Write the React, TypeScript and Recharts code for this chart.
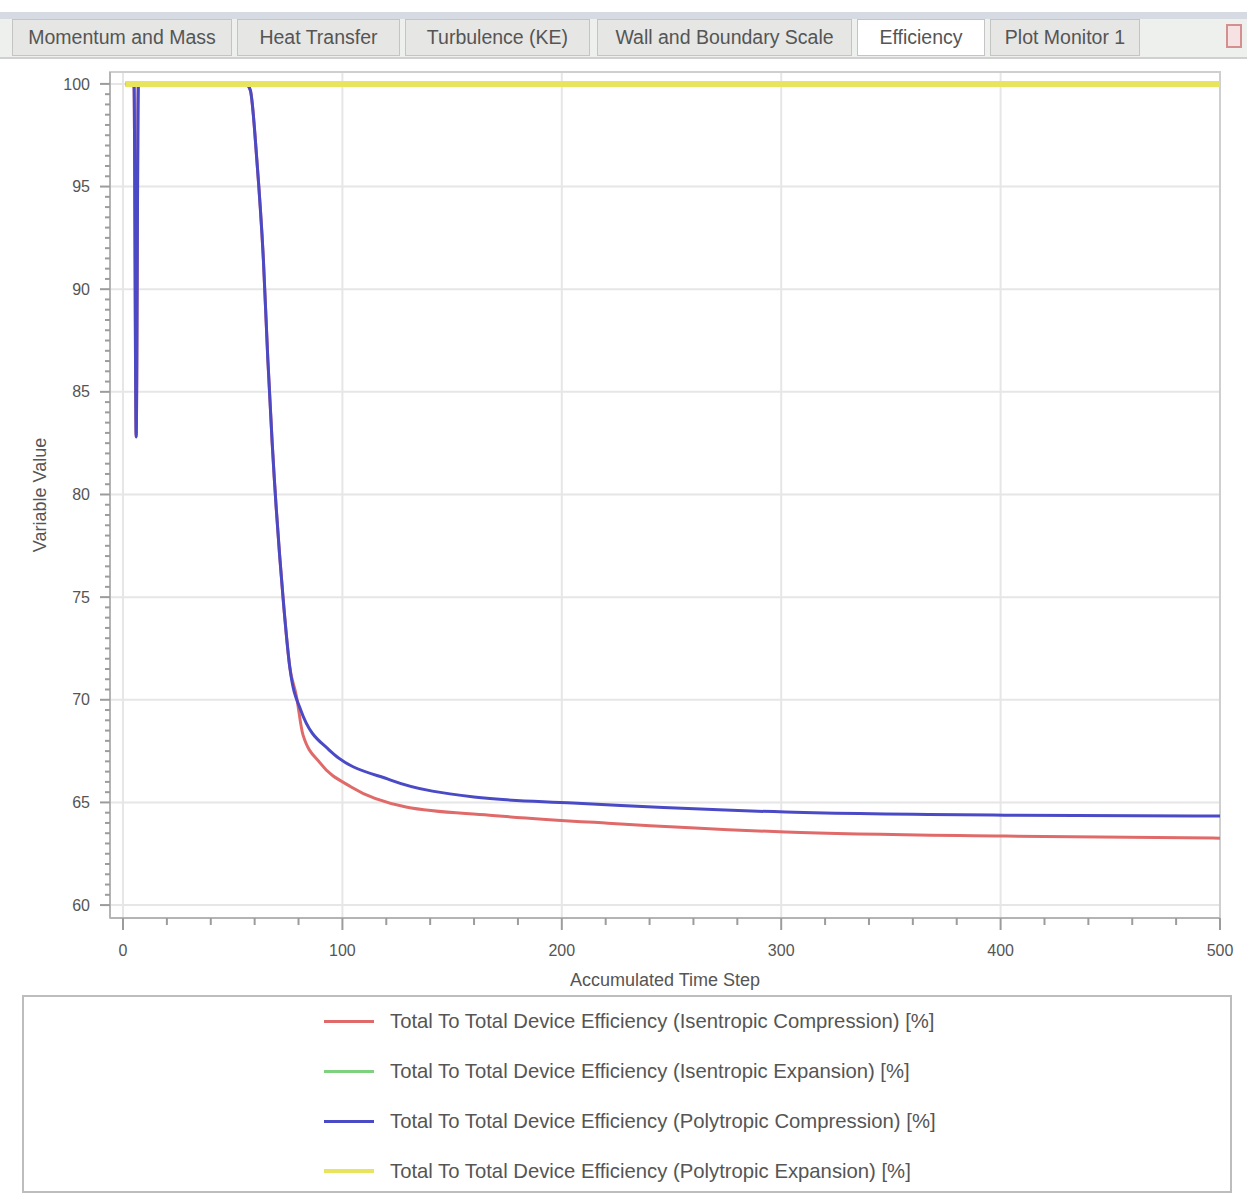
import React from 'react';
import { LineChart, Line, XAxis, YAxis, CartesianGrid, ReferenceArea } from 'recharts';

// ---------- data ----------
const tabLabels = ['Momentum and Mass', 'Heat Transfer', 'Turbulence (KE)', 'Wall and Boundary Scale', 'Efficiency', 'Plot Monitor 1'];
const activeTab = 'Efficiency';

const seriesNames = [
  'Total To Total Device Efficiency (Isentropic Compression) [%]',
  'Total To Total Device Efficiency (Isentropic Expansion) [%]',
  'Total To Total Device Efficiency (Polytropic Compression) [%]',
  'Total To Total Device Efficiency (Polytropic Expansion) [%]',
];
const seriesColors = ['#e06a6a', '#7fd07f', '#4a4ac6', '#e9e45e'];

const isenCompSteps = [1, 5, 6, 7, 56, 58, 61, 64, 66, 68, 73, 76, 79, 82, 90, 104, 129, 167, 221, 302, 402, 500];
const isenCompValues = [100, 100, 82.8, 100, 100, 99.7, 96.3, 91.4, 86.6, 82.5, 74.9, 71.6, 70.2, 68.3, 66.9, 65.75, 64.78, 64.38, 63.99, 63.56, 63.36, 63.26];

const isenExpSteps = [1, 500];
const isenExpValues = [100, 100];

const polyCompSteps = [1, 5, 6, 7, 56, 58, 61, 64, 66, 68, 73, 76, 81, 94, 122, 160, 205, 302, 402, 500];
const polyCompValues = [100, 100, 82.8, 100, 100, 99.7, 96.3, 91.4, 86.6, 82.5, 74.9, 71.6, 69.5, 67.55, 66.09, 65.26, 64.97, 64.53, 64.38, 64.34];

const polyExpSteps = [1, 500];
const polyExpValues = [100, 100];

const xMajorTicks = [0, 100, 200, 300, 400, 500];
const yMajorTicks = [60, 65, 70, 75, 80, 85, 90, 95, 100];
const xDomain = [-5.93, 500];
const yDomain = [59.37, 100.58];
const xTitle = 'Accumulated Time Step';
const yTitle = 'Variable Value';

// ---------- layout (not data) ----------
const tabWidths = [220, 163, 185, 255, 128, 150];
const tabGaps = [5, 5, 7, 5, 5, 0];

// ---------- derived ----------
const toRows = (steps: number[], vals: number[]) => steps.map((s, i) => ({ s, v: vals[i] }));
const seriesData = [
  toRows(isenCompSteps, isenCompValues),
  toRows(isenExpSteps, isenExpValues),
  toRows(polyCompSteps, polyCompValues),
  toRows(polyExpSteps, polyExpValues),
];
const xAllTicks = Array.from({ length: 26 }, (_, i) => i * 20);
const yAllTicks = Array.from({ length: 81 }, (_, i) => 60 + i * 0.5);

const FONT = '"Liberation Sans", Arial, sans-serif';

const XTick = (props: any) => {
  const { x, y, payload } = props;
  const major = xMajorTicks.includes(payload.value);
  return (
    <g>
      <line x1={x} y1={y} x2={x} y2={y + (major ? 12 : 7)} stroke="#9c9c9c" strokeWidth={2} />
      {major && (
        <text x={x} y={y + 38} textAnchor="middle" fontSize={16} fill="#555" fontFamily={FONT}>
          {payload.value}
        </text>
      )}
    </g>
  );
};

const YTick = (props: any) => {
  const { x, y, payload } = props;
  const major = yMajorTicks.includes(payload.value);
  return (
    <g>
      <line x1={x - (major ? 10 : 5)} y1={y} x2={x} y2={y} stroke="#9c9c9c" strokeWidth={2} />
      {major && (
        <text x={x - 20} y={y} dy="0.35em" textAnchor="end" fontSize={16} fill="#555" fontFamily={FONT}>
          {payload.value}
        </text>
      )}
    </g>
  );
};

export default function App() {
  return (
    <div style={{ position: 'relative', width: 1247, height: 1195, background: '#fff', fontFamily: FONT, overflow: 'hidden' }}>
      <style>{'body{margin:0;background:#fff;}'}</style>
      {/* tab strip */}
      <div style={{ position: 'absolute', left: 0, top: 12, width: 1247, height: 7, background: '#d6dbe3' }} />
      <div style={{ position: 'absolute', left: 0, top: 19, width: 1247, height: 38, background: '#eef0ee', borderBottom: '2px solid #d0d0d0' }} />
      <div style={{ position: 'absolute', left: 12, top: 19, display: 'flex' }}>
        {tabLabels.map((t, i) => (
          <div
            key={t}
            style={{
              boxSizing: 'border-box',
              width: tabWidths[i],
              marginRight: tabGaps[i],
              height: 37,
              lineHeight: '35px',
              textAlign: 'center',
              fontSize: 19.5,
              color: '#555',
              background: t === activeTab ? '#ffffff' : '#e6e6e4',
              border: '1px solid #c4c4c4',
              whiteSpace: 'nowrap',
              overflow: 'hidden',
            }}
          >
            {t}
          </div>
        ))}
      </div>
      <div style={{ position: 'absolute', left: 1226, top: 24, width: 12, height: 20, border: '2px solid #d49090', background: '#f6e2e2' }} />

      {/* chart */}
      <div style={{ position: 'absolute', left: 0, top: 60 }}>
        <LineChart width={1247} height={930} margin={{ top: 12, right: 27, bottom: 0, left: 0 }}>
          <CartesianGrid stroke="#e6e6e6" strokeWidth={2} horizontalValues={yMajorTicks} verticalValues={xMajorTicks} />
          <ReferenceArea x1={xDomain[0]} x2={xDomain[1]} y1={yDomain[0]} y2={yDomain[1]} fill="none" stroke="#cfcfcf" strokeWidth={2} ifOverflow="visible" />
          <XAxis
            type="number"
            dataKey="s"
            domain={xDomain}
            ticks={xAllTicks}
            interval={0}
            allowDataOverflow
            tickSize={0}
            tickMargin={0}
            tickLine={false}
            axisLine={{ stroke: '#b4b4b4', strokeWidth: 2 }}
            tick={<XTick />}
            height={72}
            label={{ value: xTitle, position: 'insideBottom', offset: 4, fontSize: 18, fill: '#555', fontFamily: FONT }}
          />
          <YAxis
            type="number"
            domain={yDomain}
            ticks={yAllTicks}
            interval={0}
            allowDataOverflow
            tickSize={0}
            tickMargin={0}
            tickLine={false}
            axisLine={{ stroke: '#b4b4b4', strokeWidth: 2 }}
            tick={<YTick />}
            width={110}
            label={{ value: yTitle, angle: -90, position: 'insideLeft', offset: 40, fontSize: 18, fill: '#555', fontFamily: FONT, style: { textAnchor: 'middle' } }}
          />
          {seriesData.map((d, i) => (
            <Line
              key={seriesNames[i]}
              data={d}
              dataKey="v"
              name={seriesNames[i]}
              type="monotone"
              stroke={seriesColors[i]}
              strokeWidth={i === 3 ? 6 : 3}
              dot={false}
              activeDot={false}
              isAnimationActive={false}
            />
          ))}
        </LineChart>
      </div>

      {/* legend */}
      <div style={{ position: 'absolute', left: 22, top: 995, width: 1206, height: 194, border: '2px solid #bdbdbd', background: '#fff' }}>
        {seriesNames.map((n, i) => (
          <div key={n} style={{ position: 'absolute', left: 300, top: 10 + i * 50, height: 28, display: 'flex', alignItems: 'center' }}>
            <div style={{ width: 50, height: i === 3 ? 4 : 3, background: seriesColors[i] }} />
            <div style={{ marginLeft: 16, fontSize: 20.3, color: '#555', whiteSpace: 'nowrap' }}>{n}</div>
          </div>
        ))}
      </div>
    </div>
  );
}
